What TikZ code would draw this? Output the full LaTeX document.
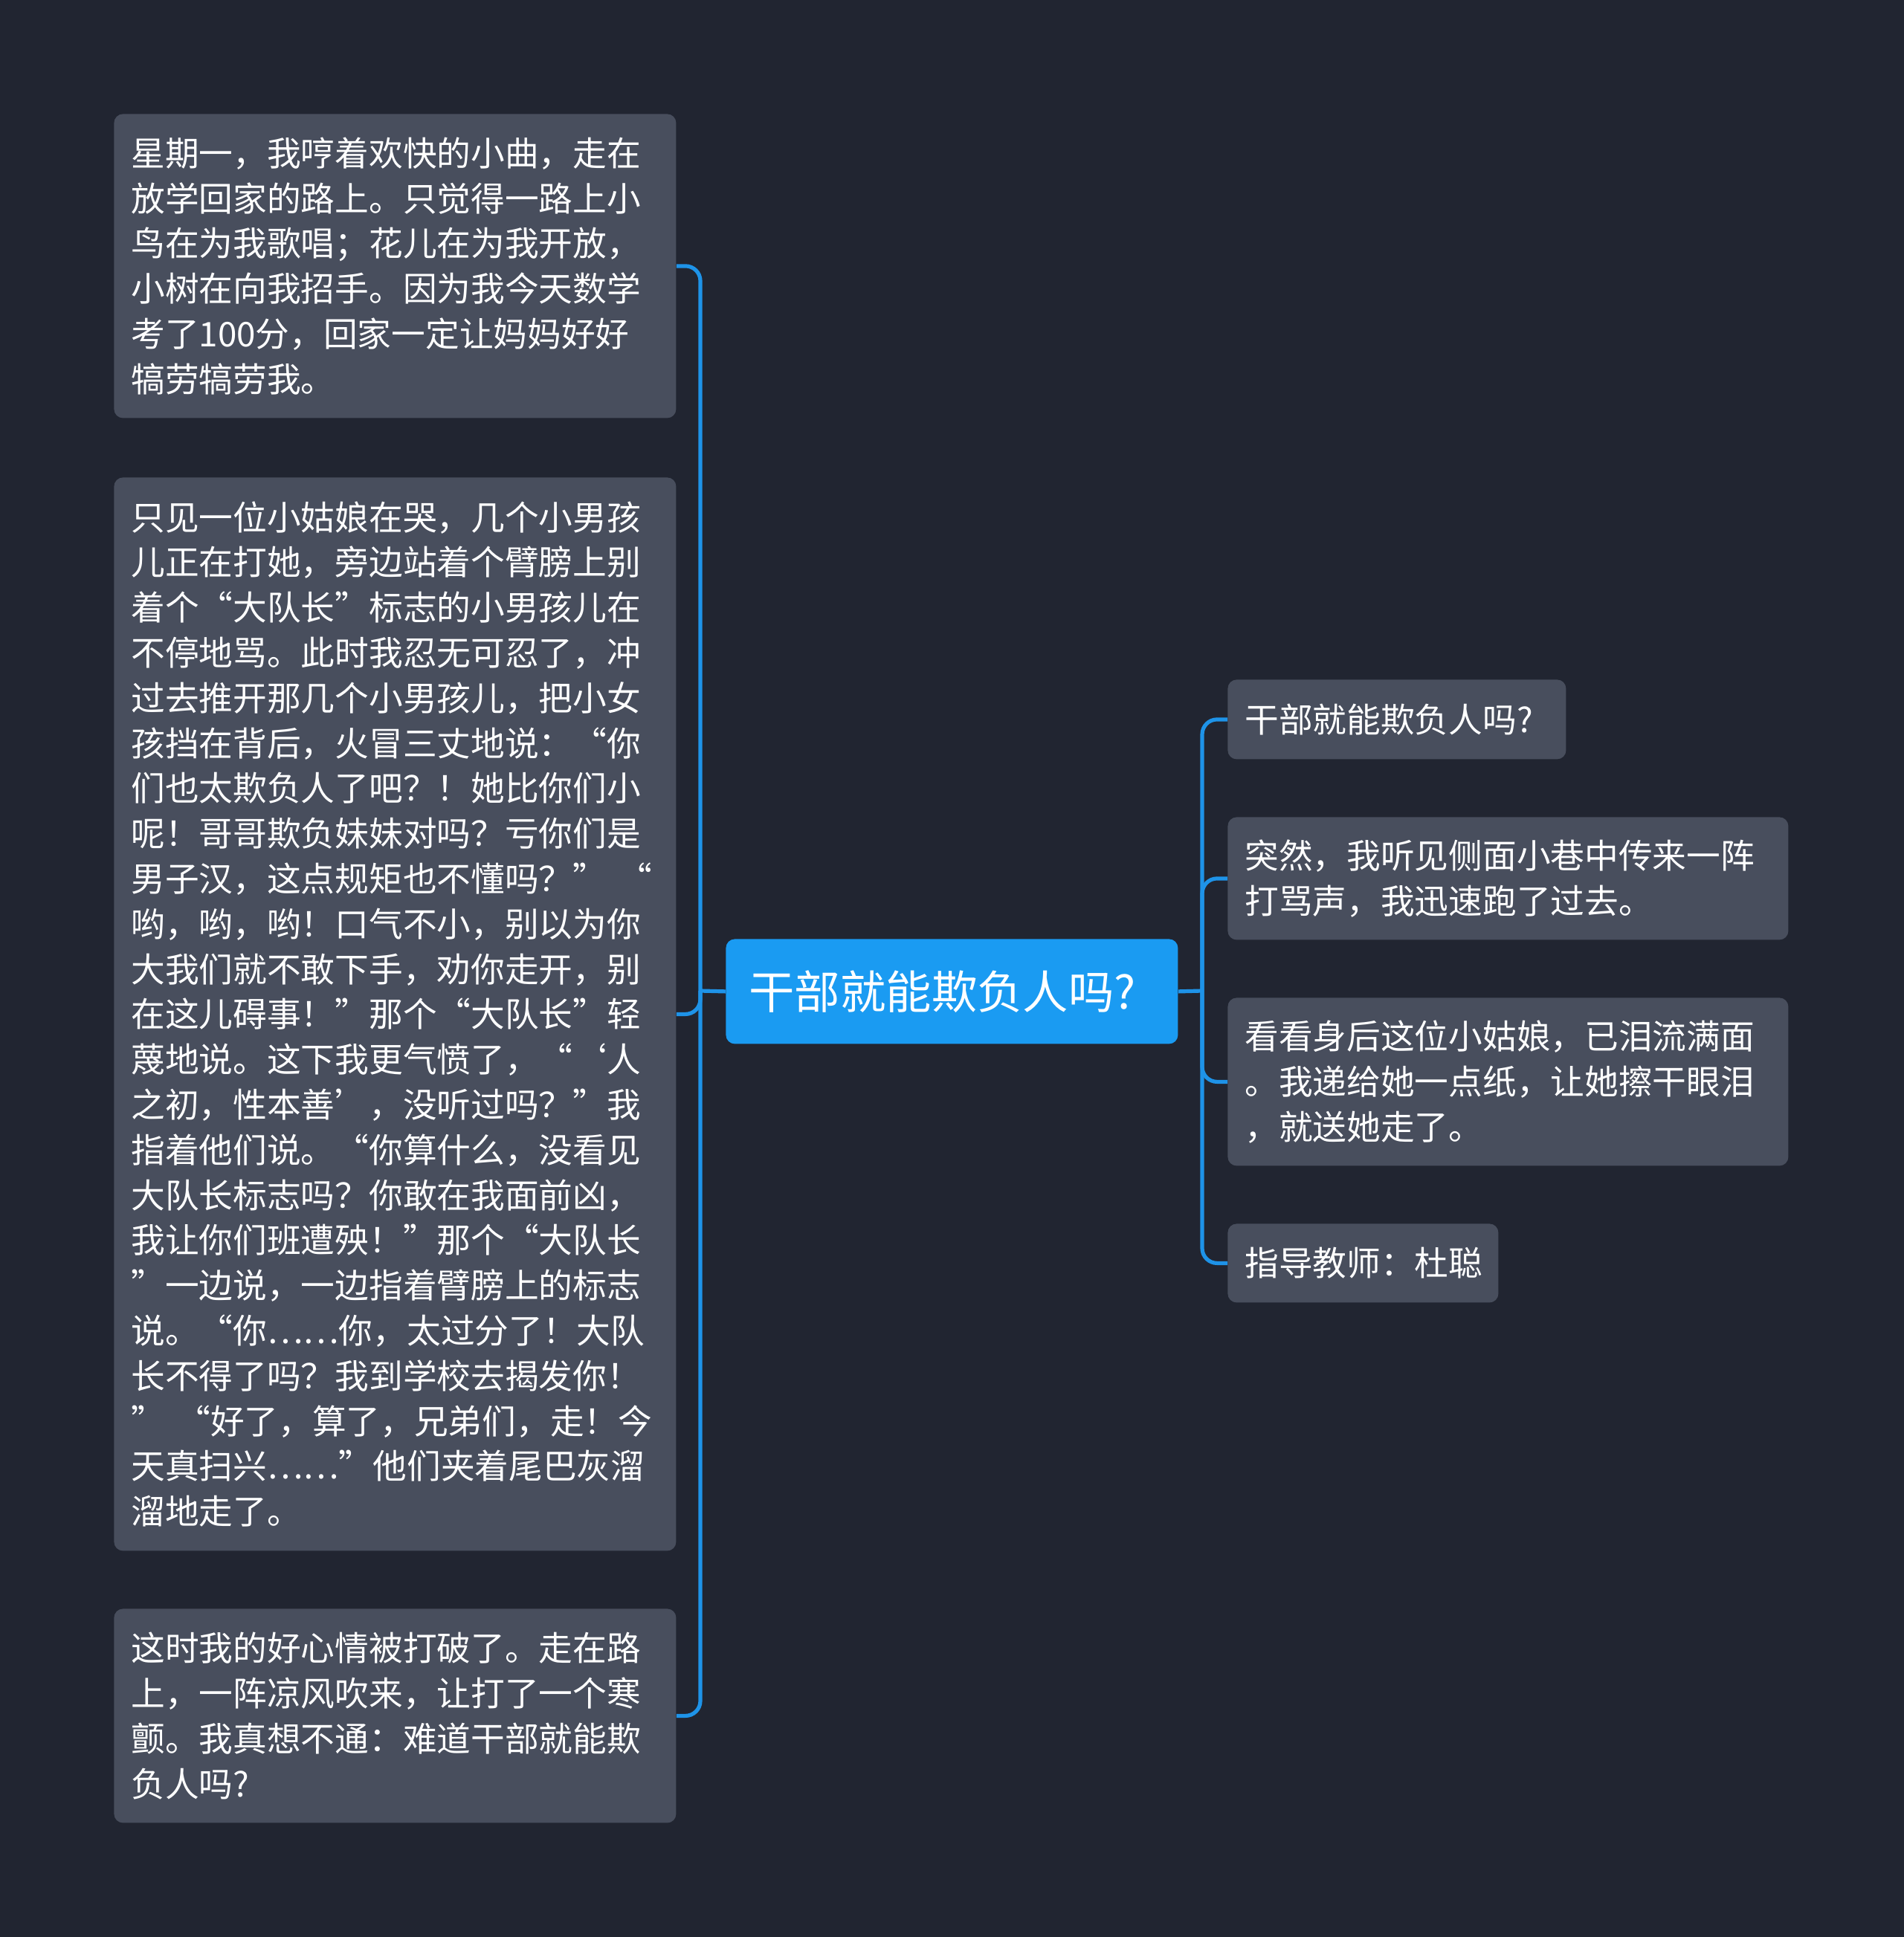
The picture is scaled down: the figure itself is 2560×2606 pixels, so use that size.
\documentclass[tikz,border=0pt]{standalone}
\usepackage{fontspec}
\newfontfamily\cjk{Noto Sans CJK SC}
\definecolor{pagebg}{HTML}{212531}
\definecolor{leafbg}{HTML}{484E5D}
\definecolor{linkblue}{HTML}{1E93E8}
\definecolor{rootbg}{HTML}{1A9BF2}
\begin{document}
\begin{tikzpicture}[
  x=0.5pt, y=-0.5pt,
  every node/.style={text=white, inner ysep=0pt, align=left},
  leaf/.style={fill=leafbg, rounded corners=6pt, inner xsep=11.5pt,
    font=\cjk\fontsize{22.85pt}{30.4pt}\selectfont, anchor=north west},
  leftleaf/.style={leaf, minimum width=378pt, text width=355pt},
  rightleaf/.style={leaf, minimum width=377pt, text width=354pt},
  topic/.style={fill=rootbg, rounded corners=6pt, inner xsep=15.5pt,
    minimum width=304pt, minimum height=70.5pt, text width=273pt,
    font=\cjk\fontsize{30.7pt}{36pt}\selectfont, anchor=north west},
  link/.style={draw=linkblue, line width=2.6pt, rounded corners=10pt}
]
\useasboundingbox (0,0) rectangle (2560,2606);
\fill[pagebg] (-10,-10) rectangle (2570,2616);

% root
\node[topic] (root) at (976,1263) {干部就能欺负人吗?};

% left side
\node[leftleaf, minimum height=204.5pt] (l1) at (153,153) {星期一，我哼着欢快的小曲，走在\\
放学回家的路上。只觉得一路上小\\
鸟在为我歌唱；花儿在为我开放，\\
小树在向我招手。因为我今天数学\\
考了100分，回家一定让妈妈好好\\
犒劳犒劳我。};
\node[leftleaf, minimum height=722pt] (l2) at (153,642) {只见一位小姑娘在哭，几个小男孩\\
儿正在打她，旁边站着个臂膀上别\\
着个“大队长”标志的小男孩儿在\\
不停地骂。此时我忍无可忍了，冲\\
过去推开那几个小男孩儿，把小女\\
孩挡在背后，火冒三丈地说：“你\\
们也太欺负人了吧？！她比你们小\\
呢！哥哥欺负妹妹对吗？亏你们是\\
男子汉，这点规矩也不懂吗？” “\\
哟，哟，哟！口气不小，别以为你\\
大我们就不敢下手，劝你走开，别\\
在这儿碍事！”那个“大队长”轻\\
蔑地说。这下我更气愤了，“‘人\\
之初，性本善’，没听过吗？”我\\
指着他们说。“你算什么，没看见\\
大队长标志吗？你敢在我面前凶，\\
我让你们班遭殃！”那个“大队长\\
”一边说，一边指着臂膀上的标志\\
说。“你……你，太过分了！大队\\
长不得了吗？我到学校去揭发你！\\
” “好了，算了，兄弟们，走！今\\
天真扫兴……”他们夹着尾巴灰溜\\
溜地走了。};
\node[leftleaf, minimum height=144pt] (l3) at (153,2164) {这时我的好心情被打破了。走在路\\
上，一阵凉风吹来，让打了一个寒\\
颤。我真想不通：难道干部就能欺\\
负人吗?};

% right side
\node[leaf, minimum width=227.5pt, text width=204.5pt, minimum height=53.5pt] (r1) at (1651,914) {干部就能欺负人吗?};
\node[rightleaf, minimum height=82.5pt] (r2) at (1651,1099) {突然，我听见侧面小巷中传来一阵\\
打骂声，我迅速跑了过去。};
\node[rightleaf, minimum height=113pt] (r3) at (1651,1342) {看看身后这位小姑娘，已泪流满面\\
。我递给她一点纸，让她擦干眼泪\\
，就送她走了。};
\node[leaf, minimum width=182pt, text width=159pt, minimum height=53pt] (r4) at (1651,1646) {指导教师：杜聪};

% connectors
\coordinate (jl) at (942,1333);
\coordinate (jr) at (1617,1333);
\draw[link] (root.west) -- (jl);
\draw[link] (root.east) -- (jr);
\foreach \n in {l1,l2,l3} \draw[link] (jl) |- (\n.east);
\foreach \n in {r1,r2,r3,r4} \draw[link] (jr) |- (\n.west);
\end{tikzpicture}
\end{document}
